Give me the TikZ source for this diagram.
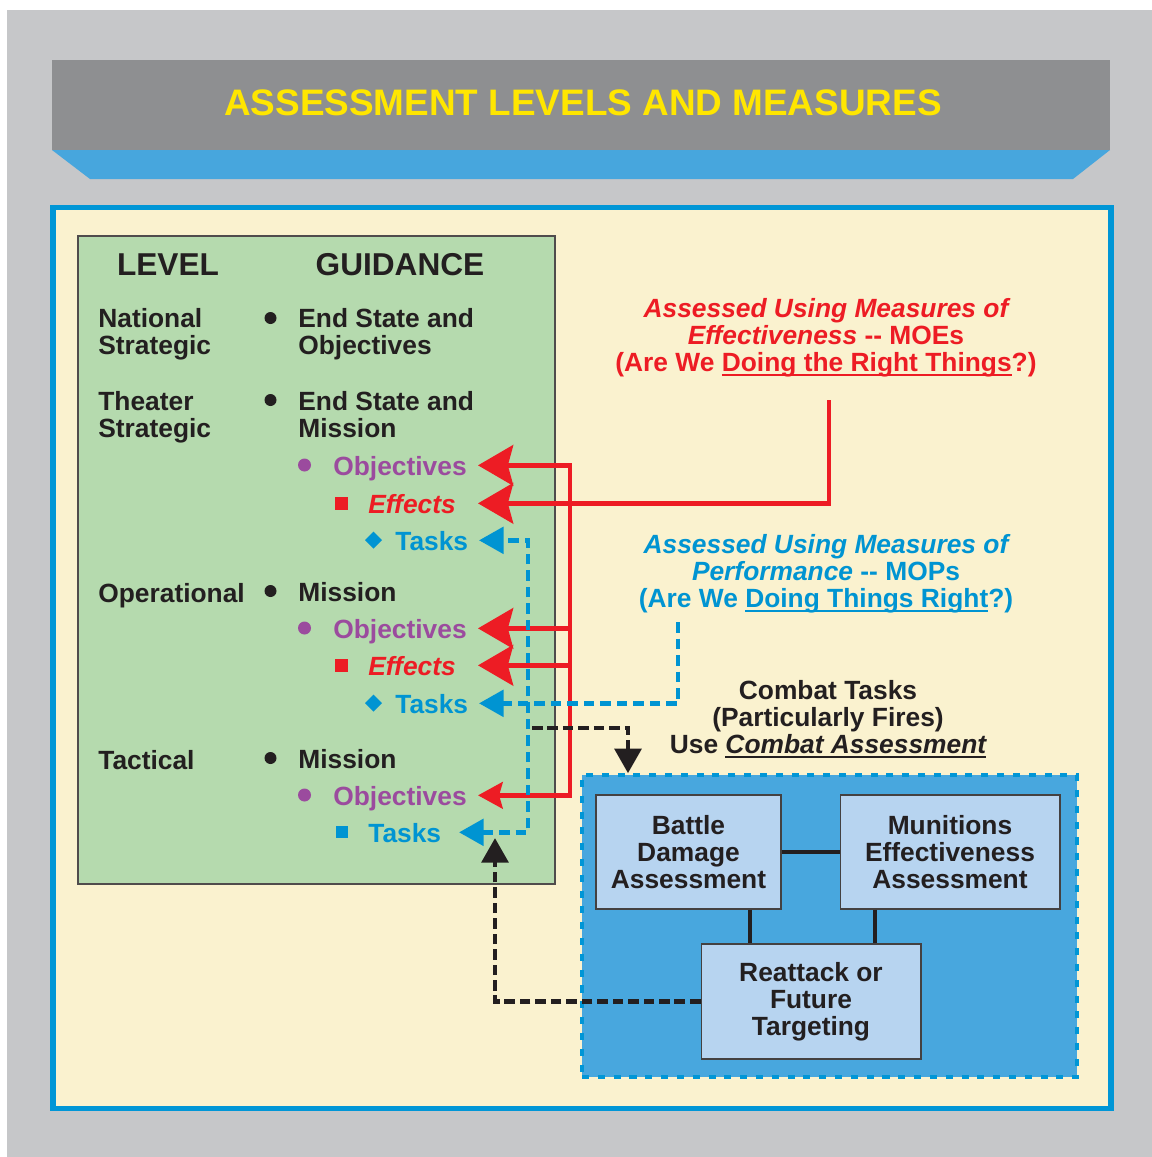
\documentclass[tikz,border=0pt]{standalone}
\usepackage{fontspec}
\setmainfont{Liberation Sans}
\usetikzlibrary{arrows.meta}

\definecolor{bggray}{HTML}{C6C7C9}
\definecolor{bannergray}{HTML}{8E8F91}
\definecolor{banblue}{HTML}{47A6DD}
\definecolor{frameblue}{HTML}{0096D6}
\definecolor{cream}{HTML}{FAF2CF}
\definecolor{tablegreen}{HTML}{B5DAAE}
\definecolor{ink}{HTML}{231F20}
\definecolor{arrred}{HTML}{ED1C24}
\definecolor{purp}{HTML}{9B4B9E}
\definecolor{tblue}{HTML}{0094D2}
\definecolor{boxblue}{HTML}{B7D4F0}
\definecolor{cboxfill}{HTML}{48A7DE}
\definecolor{titleyellow}{HTML}{FFE600}

\newcommand{\undl}[1]{\setbox0\hbox{#1}\rlap{\rule[-2.6pt]{\wd0}{1pt}}\box0}

\begin{document}
\begin{tikzpicture}[x=0.02cm,y=-0.02cm,
		txt/.style={font=\fontsize{15}{15.3}\selectfont\bfseries, text=ink, inner sep=0pt},
		item/.style={txt, anchor=base west, text height=11pt, text depth=0pt},
		multi/.style={txt, anchor=north west, align=left},
		head/.style={font=\fontsize{18}{20}\selectfont\bfseries, text=ink, anchor=base},
		note/.style={txt, anchor=north, align=center},
		abox/.style={draw=ink!85, line width=0.6pt, fill=boxblue, font=\fontsize{15}{15.4}\selectfont\bfseries, text=ink, align=center, minimum height=2.28cm},
		link/.style={draw=ink, line width=2.8pt},
		redline/.style={draw=arrred, line width=2.8pt},
		redarr/.style={redline, -{Stealth[length=20pt,width=23pt,inset=3pt]}},
		bluearr/.style={draw=tblue, line width=2.6pt, dash pattern=on 6pt off 3.4pt, -{Triangle[length=14pt,width=15pt]}},
		blkarr/.style={draw=ink, line width=2.8pt, dash pattern=on 6pt off 2.8pt, -{Triangle[length=14pt,width=15pt]}}]
	\useasboundingbox (0,0) rectangle (1152,1157);
	% backdrop and title banner
	\fill [bggray] (7,10) rectangle (1152,1157);
	\fill [bannergray] (52,60) rectangle (1110,150);
	\fill [banblue] (52,150) -- (1110,150) -- (1073,179) -- (90,179) -- cycle;
	\node [font=\fontsize{21}{23}\selectfont\bfseries, text=titleyellow] (title) at (583,103) {ASSESSMENT LEVELS AND MEASURES};
	\draw [frameblue, line width=3.1pt, fill=cream] (52.8,207.5) rectangle (1111.2,1108.3);
	\draw [ink!80, line width=0.6pt, fill=tablegreen] (78,236) rectangle (555,884);

	% levels and guidance
	\node [head] (hlevel) at (168,275) {LEVEL};
	\node [head] (hguide) at (400,275) {GUIDANCE};
	\node [multi] (natl) at (98,308) {National\\Strategic};
	\node [multi] (gnatl) at (298,308) {End State and\\Objectives};
	\node [multi] (thtr) at (98,391) {Theater\\Strategic};
	\node [multi] (gthtr) at (298,391) {End State and\\Mission};
	\node [item, text=purp] (obj1) at (333,475) {Objectives};
	\node [item, text=arrred, font=\fontsize{15}{15.3}\selectfont\bfseries\itshape] (eff1) at (368,513) {Effects};
	\node [item, text=tblue] (task1) at (395,550) {Tasks};
	\node [item] (oper) at (98,602) {Operational};
	\node [item] (goper) at (298,601) {Mission};
	\node [item, text=purp] (obj2) at (333,638) {Objectives};
	\node [item, text=arrred, font=\fontsize{15}{15.3}\selectfont\bfseries\itshape] (eff2) at (368,675) {Effects};
	\node [item, text=tblue] (task2) at (395,713) {Tasks};
	\node [item] (tact) at (98,769) {Tactical};
	\node [item] (gtact) at (298,768) {Mission};
	\node [item, text=purp] (obj3) at (333,805) {Objectives};
	\node [item, text=tblue] (task3) at (368,842) {Tasks};

	% bullets
	\foreach \y in {318,400,591,758}
		\fill [ink] (270.5,\y) circle (6);
	\foreach \y in {465,628,795}
		\fill [purp] (304.5,\y) circle (6.5);
	\foreach \y in {503,665}
		\fill [arrred] (335,\y-6.5) rectangle +(13,13);
	\foreach \y in {540,703}
		\fill [tblue] (373.5,\y-8.5) -- (382,\y) -- (373.5,\y+8.5) -- (365,\y) -- cycle;
	\fill [tblue] (335.5,826) rectangle +(12,12);

	% measures
	\node [note, text=arrred] (moe) at (826,298) {\itshape Assessed Using Measures of\\{\itshape Effectiveness} -{}- MOEs\\(Are We \undl{Doing the Right Things}?)};
	\node [note, text=tblue] (mop) at (826,534) {\itshape Assessed Using Measures of\\{\itshape Performance} -{}- MOPs\\(Are We \undl{Doing Things Right}?)};
	\node [note] (combat) at (828,680) {Combat Tasks\\(Particularly Fires)\\Use \undl{\itshape Combat Assessment}};

	% combat assessment
	\node [draw=frameblue, fill=cboxfill, line width=2pt, dash pattern=on 4pt off 5pt, minimum width=9.9cm, minimum height=6.04cm] (cbox) at (829.5,926) {};
	\node [abox, minimum width=3.7cm] (bda) at (688.5,852) {Battle\\Damage\\Assessment};
	\node [abox, minimum width=4.4cm] (mea) at (950,852) {Munitions\\Effectiveness\\Assessment};
	\node [abox, minimum width=4.4cm, minimum height=2.3cm] (reat) at (811,1001.5) {Reattack or\\Future\\Targeting};
	\draw [link] (bda.east) -- (mea.west);
	\draw [link] ([xshift=1.23cm]bda.south) -- ([xshift=1.23cm]bda.south |- reat.north);
	\draw [link] ([xshift=-1.5cm]mea.south) -- ([xshift=-1.5cm]mea.south |- reat.north);

	% connectors
	\coordinate (tip) at (478,0);
	\coordinate (rv) at (570,0);
	\coordinate (moefoot) at (829,400);
	\draw [redarr] (moefoot) |- (tip |- eff1);
	\draw [redline, {Stealth[length=14pt,width=15pt,inset=2pt]}-{Stealth[length=20pt,width=23pt,inset=3pt]}] (tip |- obj3) -| (rv |- obj1) -- (tip |- obj1);
	\draw [redarr] (rv |- obj2) -- (tip |- obj2);
	\draw [redarr] (rv |- eff2) -- (tip |- eff2);
	\coordinate (bv) at (528,0);
	\coordinate (ttip) at (479,0);
	\coordinate (mopfoot) at (678,622);
	\draw [bluearr, {Triangle[length=14pt,width=15pt]}-{Triangle[length=14pt,width=15pt]}] ([xshift=10pt]task3.east) -| (bv |- task1) -- (ttip |- task1);
	\draw [bluearr] (mopfoot) |- (ttip |- task2);
	\coordinate (cs) at (532,728);
	\coordinate (cdrop) at (628,0);
	\draw [blkarr] (cs) -| (cdrop |- cbox.north);
	\coordinate (fb) at (495,838);
	\draw [blkarr] (reat.west) -| (fb);
\end{tikzpicture}
\end{document}
